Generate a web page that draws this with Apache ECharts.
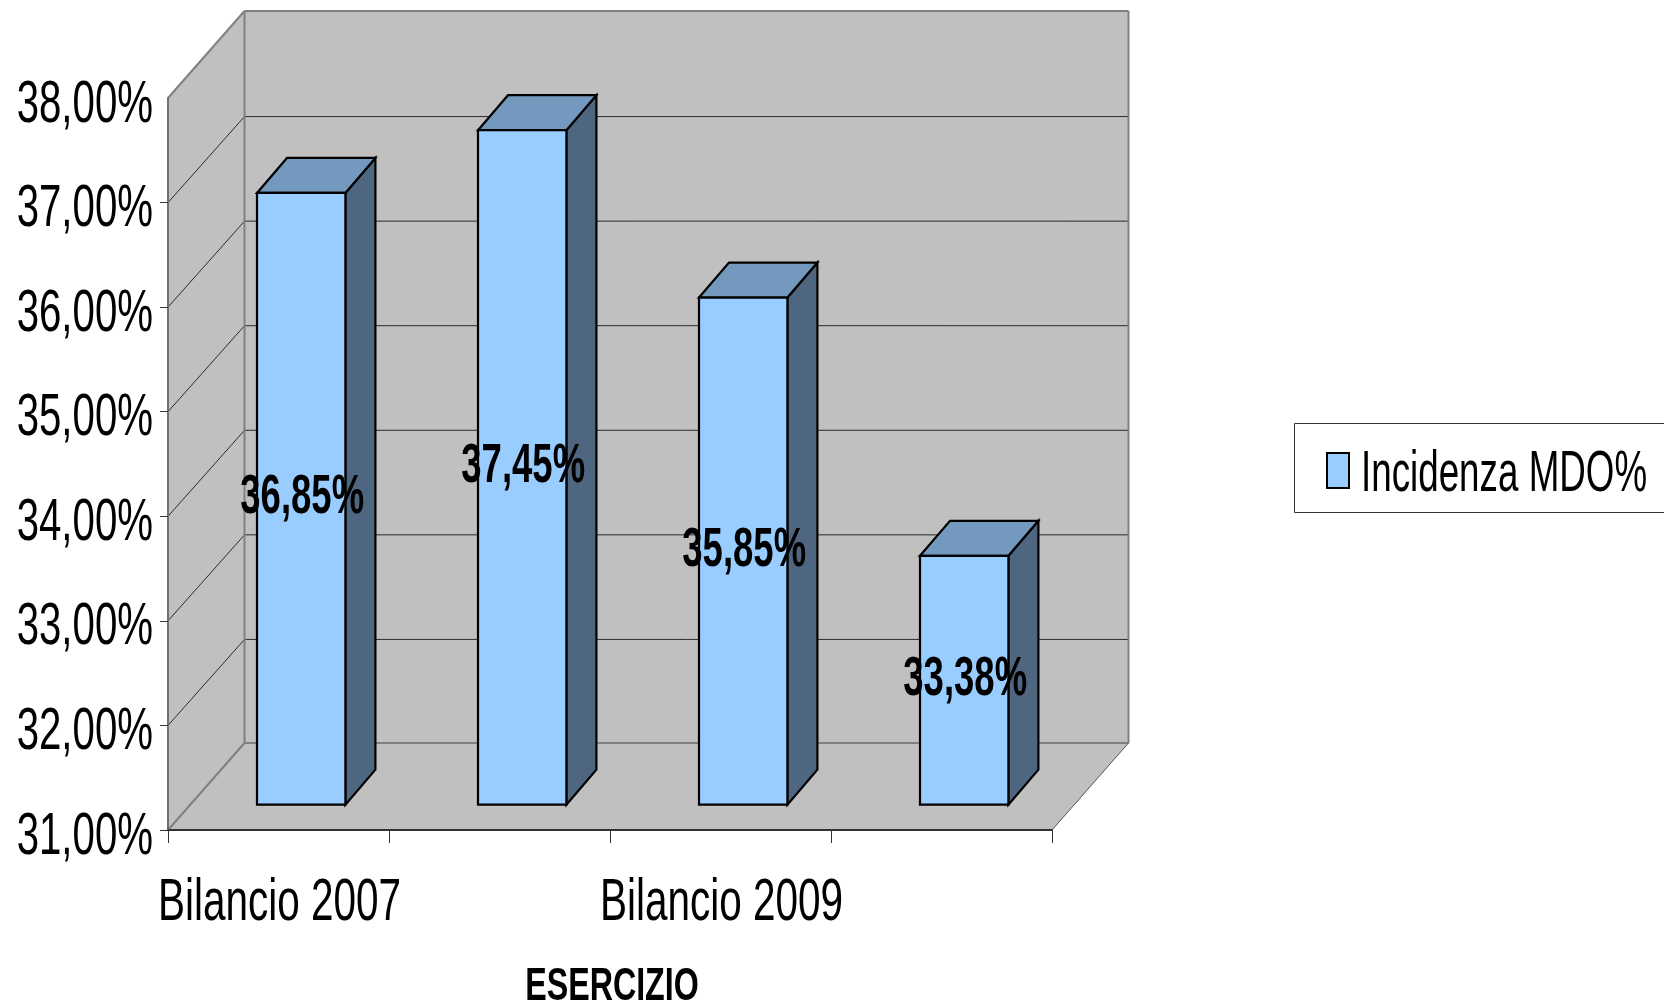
<!DOCTYPE html>
<html>
<head>
<meta charset="utf-8">
<style>html,body{margin:0;padding:0;background:#fff}#chart{width:1664px;height:1006px}</style>
<script src="https://cdn.jsdelivr.net/npm/echarts@6/dist/echarts.min.js"></script>
</head>
<body>
<div id="chart"></div>
<script>
const categories = ['Bilancio 2007', 'Bilancio 2008', 'Bilancio 2009', 'Bilancio 2010'];
const shownCategoryLabels = [0, 2];
const mdoValues = [36.85, 37.45, 35.85, 33.38];
const yTicks = [31, 32, 33, 34, 35, 36, 37, 38];
const seriesName = 'Incidenza MDO%';
const axisTitle = 'ESERCIZIO';

const FONT = '"Liberation Sans", Arial, sans-serif';
const WALL_DX = 76.5, WALL_DY = 87, GRID_DY = 86;
const BAR_OFF_DX = 22.7, BAR_OFF_DY = 25.3;
const BAR_DX = 30, BAR_DY = 35;
const WALL = '#C0C0C0', WALL_EDGE = '#808080', GRID = '#2b2b2b';
const FRONT = '#99CCFF', TOP = '#7399BF', SIDE = '#4F6680';

const fmt = v => v.toFixed(2).replace('.', ',') + '%';

function renderWalls(params, api) {
  const cs = params.coordSys;
  const L = cs.x, R = cs.x + cs.width;
  const b = api.coord([0, yTicks[0]])[1];
  const t = api.coord([0, yTicks[yTicks.length - 1]])[1];
  const poly = (pts, extra) => ({ type: 'polygon', shape: { points: pts }, style: Object.assign({ fill: WALL, stroke: null }, extra || {}) });
  const line = (x1, y1, x2, y2, stroke, lw) => ({ type: 'line', shape: { x1, y1, x2, y2 }, style: { stroke, lineWidth: lw } });
  const children = [
    poly([[L + WALL_DX, t - WALL_DY], [R + WALL_DX, t - WALL_DY], [R + WALL_DX, b - WALL_DY], [L + WALL_DX, b - WALL_DY]]),
    poly([[L, t], [L + WALL_DX, t - WALL_DY], [L + WALL_DX, b - WALL_DY], [L, b]]),
    poly([[L, b], [L + WALL_DX, b - WALL_DY], [R + WALL_DX, b - WALL_DY], [R, b]])
  ];
  yTicks.slice(1, -1).forEach(v => {
    const y = api.coord([0, v])[1];
    children.push(line(L, y, L + WALL_DX, y - GRID_DY, GRID, 1));
    children.push(line(L + WALL_DX, y - GRID_DY, R + WALL_DX, y - GRID_DY, GRID, 1));
  });
  children.push(line(L + WALL_DX, b - WALL_DY, R + WALL_DX, b - WALL_DY, WALL_EDGE, 2));
  children.push(line(L + WALL_DX, t - WALL_DY, R + WALL_DX, t - WALL_DY, WALL_EDGE, 2));
  children.push(line(L + WALL_DX, t - WALL_DY, L + WALL_DX, b - WALL_DY, WALL_EDGE, 2));
  children.push(line(R + WALL_DX, t - WALL_DY, R + WALL_DX, b - WALL_DY, WALL_EDGE, 2));
  children.push(line(L, t, L + WALL_DX, t - WALL_DY, WALL_EDGE, 2));
  children.push(line(L, b, L + WALL_DX, b - WALL_DY, WALL_EDGE, 2));
  children.push(line(R, b, R + WALL_DX, b - WALL_DY, '#555555', 1));
  return { type: 'group', children };
}

function renderBar(params, api) {
  const i = api.value(0), v = api.value(1);
  const top = api.coord([i, v]);
  const base = api.coord([i, yTicks[0]]);
  const w = api.size([1, 0])[0] * 0.4;
  const x0 = top[0] + BAR_OFF_DX - w / 2, x1 = x0 + w;
  const yT = top[1] - BAR_OFF_DY, yB = base[1] - BAR_OFF_DY;
  const st = fill => ({ fill, stroke: '#000', lineWidth: 2.2, lineJoin: 'miter' });
  return { type: 'group', children: [
    { type: 'polygon', shape: { points: [[x1, yT], [x1 + BAR_DX, yT - BAR_DY], [x1 + BAR_DX, yB - BAR_DY], [x1, yB]] }, style: st(SIDE) },
    { type: 'polygon', shape: { points: [[x0, yT], [x0 + BAR_DX, yT - BAR_DY], [x1 + BAR_DX, yT - BAR_DY], [x1, yT]] }, style: st(TOP) },
    { type: 'rect', shape: { x: x0, y: yT, width: w, height: yB - yT }, style: st(FRONT) },
    { type: 'text', x: (x0 + x1) / 2 + 1, y: (yT + yB) / 2 - 1, scaleX: 0.652,
      style: { text: fmt(v), font: 'bold 56px ' + FONT, fill: '#000', align: 'center', verticalAlign: 'middle' } }
  ] };
}

function renderYLabel(params, api) {
  const v = api.value(0);
  const y = api.coord([0, v])[1];
  return { type: 'text', x: params.coordSys.x - 15, y: y + 7, scaleX: 0.67,
    style: { text: fmt(v), font: '60px ' + FONT, fill: '#000', align: 'right', verticalAlign: 'middle' } };
}

function renderXLabel(params, api) {
  const i = api.value(0);
  const x = api.coord([i, yTicks[0]])[0];
  const cs = params.coordSys;
  return { type: 'text', x: x + 1, y: cs.y + cs.height + 73, scaleX: 0.675,
    style: { text: categories[i], font: '60px ' + FONT, fill: '#000', align: 'center', verticalAlign: 'middle' } };
}

const chart = echarts.init(document.getElementById('chart'), null, { renderer: 'canvas' });
chart.setOption({
  animation: false,
  backgroundColor: '#ffffff',
  tooltip: { show: false },
  grid: { left: 168, right: 612, top: 98, bottom: 176 },
  xAxis: {
    type: 'category', data: categories, z: 6,
    axisLine: { lineStyle: { color: '#333333', width: 2 } },
    axisTick: { show: true, interval: 0, length: 13, lineStyle: { color: '#333333', width: 1 } },
    axisLabel: { show: false }
  },
  yAxis: {
    type: 'value', min: 31, max: 38, interval: 1, z: 6,
    axisLine: { show: true, lineStyle: { color: '#707070', width: 2 } },
    axisTick: { show: true, length: 8, customValues: yTicks.slice(0, -1), lineStyle: { color: '#333333', width: 1 } },
    axisLabel: { show: false },
    splitLine: { show: false }
  },
  graphic: [
    { type: 'rect', z: 10, shape: { x: 1294.5, y: 423.5, width: 380, height: 89 }, style: { fill: '#fff', stroke: '#333', lineWidth: 1 } },
    { type: 'rect', z: 11, shape: { x: 1327, y: 453, width: 22, height: 35 }, style: { fill: FRONT, stroke: '#000', lineWidth: 2 } },
    { type: 'text', z: 11, x: 1361, y: 475, scaleX: 0.634, style: { text: seriesName, font: '58px ' + FONT, fill: '#000', align: 'left', verticalAlign: 'middle' } },
    { type: 'text', z: 11, x: 612, y: 987, scaleX: 0.7, style: { text: axisTitle, font: 'bold 46px ' + FONT, fill: '#000', align: 'center', verticalAlign: 'middle' } }
  ],
  series: [
    { type: 'custom', name: 'walls', z: 1, silent: true, clip: false, data: [[0, 31]], encode: { x: 0, y: 1 }, renderItem: renderWalls },
    { type: 'custom', name: seriesName, z: 3, clip: false, data: mdoValues.map((v, i) => [i, v]), encode: { x: 0, y: 1 }, renderItem: renderBar },
    { type: 'custom', name: 'y labels', z: 7, silent: true, clip: false, data: yTicks.map(v => [v]), encode: { y: 0 }, renderItem: renderYLabel },
    { type: 'custom', name: 'x labels', z: 7, silent: true, clip: false, data: shownCategoryLabels.map(i => [i]), encode: { x: 0 }, renderItem: renderXLabel }
  ]
});
</script>
</body>
</html>
